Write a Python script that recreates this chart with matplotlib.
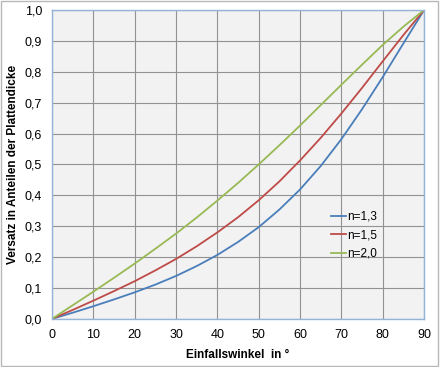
import matplotlib
matplotlib.use("Agg")
import matplotlib.pyplot as plt
from matplotlib.patches import Rectangle
from matplotlib.ticker import FuncFormatter

# Einfallswinkel in Grad
winkel = [0, 5, 10, 15, 20, 25, 30, 35, 40, 45, 50, 55, 60, 65, 70, 75, 80, 85, 90]

# Versatz in Anteilen der Plattendicke
versatz_13 = [0.0, 0.020, 0.041, 0.063, 0.086, 0.111, 0.139, 0.171, 0.207, 0.249,
              0.297, 0.354, 0.419, 0.495, 0.582, 0.679, 0.783, 0.892, 1.0]
versatz_15 = [0.0, 0.029, 0.059, 0.090, 0.122, 0.157, 0.194, 0.235, 0.280, 0.329,
              0.384, 0.445, 0.513, 0.586, 0.665, 0.748, 0.834, 0.919, 1.0]
versatz_20 = [0.0, 0.044, 0.088, 0.133, 0.179, 0.227, 0.276, 0.328, 0.383, 0.440,
              0.500, 0.562, 0.626, 0.692, 0.758, 0.823, 0.887, 0.946, 1.0]

labels = ["n=1,3", "n=1,5", "n=2,0"]
farben = ["#4a7ebb", "#be4b48", "#98b954"]

x_ticks = list(range(0, 91, 10))
y_ticks = [i / 10 for i in range(11)]

plt.rcParams["font.family"] = ["Liberation Sans", "DejaVu Sans"]

fig = plt.figure(figsize=(4.4, 3.67), dpi=100)
ax = fig.add_axes([0.118, 0.131, 0.846, 0.842])

# grauer Rahmen um die ganze Grafik
fig.patches.append(Rectangle((0.003, 0.004), 0.993, 0.992, transform=fig.transFigure,
                             fill=False, edgecolor="#b8b8b8", linewidth=1.0))

for y, lab, col in zip([versatz_13, versatz_15, versatz_20], labels, farben):
    ax.plot(winkel, y, color=col, linewidth=1.3, label=lab)

ax.set_xlim(0, 90)
ax.set_ylim(0, 1.0)
ax.set_xticks(x_ticks)
ax.set_yticks(y_ticks)
ax.yaxis.set_major_formatter(FuncFormatter(lambda v, p: f"{v:.1f}".replace(".", ",")))
ax.tick_params(length=0, labelsize=9, colors="#000000")
ax.tick_params(axis="y", pad=7)
ax.tick_params(axis="x", pad=7)

ax.set_facecolor("#f2f2f2")
ax.grid(True, color="#929292", linewidth=0.8)
ax.set_axisbelow(True)
for s in ax.spines.values():
    s.set_color("#95b3d7")
    s.set_linewidth(1.0)

ax.set_xlabel("Einfallswinkel  in °", fontsize=8.5, fontweight="bold", labelpad=6)
ax.set_ylabel("Versatz in Anteilen der Plattendicke", fontsize=8.5, fontweight="bold", labelpad=4)

ax.legend(loc="center left", bbox_to_anchor=(0.72, 0.27), frameon=False, fontsize=8.5,
          handlelength=1.3, handletextpad=0.1, labelspacing=0.55)

fig.savefig("out.png", dpi=100)
